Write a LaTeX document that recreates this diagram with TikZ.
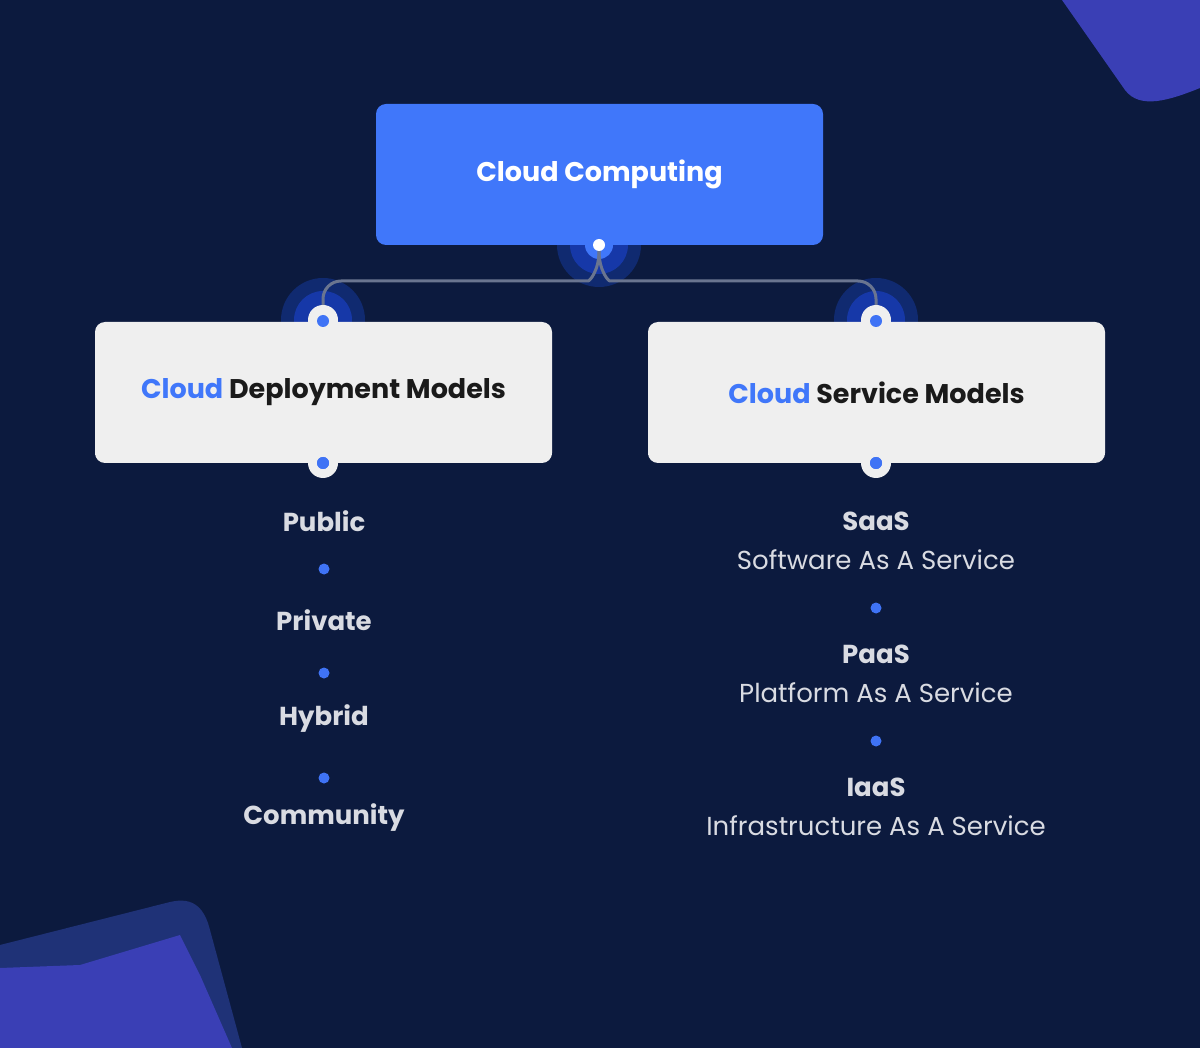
\documentclass[tikz,border=0pt]{standalone}
\usepackage{fontspec}
\setmainfont{Poppins}
\begin{document}
\begin{tikzpicture}[x=1pt,y=-1pt,
  topbox/.style={fill=topblue,rounded corners=10pt,minimum width=447pt,minimum height=141pt,text=white,font=\fontsize{27}{30}\selectfont\bfseries},
  subbox/.style={fill=boxgray,rounded corners=10pt,minimum width=457pt,minimum height=141pt,text=darktext,font=\fontsize{27}{30}\selectfont\bfseries},
  item/.style={text=itemgray,font=\fontsize{26}{30}\selectfont\bfseries},
  sub/.style={text=itemgray,font=\fontsize{26}{30}\selectfont},
  bdot/.style={circle,fill=dotblue,inner sep=0pt,minimum size=12pt},
  halo1/.style={circle,fill=halo,inner sep=0pt,minimum size=84pt},
  halo2/.style={circle,fill=halob,inner sep=0pt,minimum size=58pt},
  ring/.style={circle,fill=boxgray,inner sep=0pt,minimum size=30pt},
  link/.style={draw=linkgray,line width=3pt,rounded corners=18pt}]
\definecolor{bg}{HTML}{0C1A3E}
\definecolor{topblue}{HTML}{4077FA}
\definecolor{boxgray}{HTML}{EFEFEF}
\definecolor{darktext}{HTML}{1A1A1A}
\definecolor{itemgray}{HTML}{D9DBE2}
\definecolor{dotblue}{HTML}{3F73F5}
\definecolor{halo}{HTML}{102A70}
\definecolor{halob}{HTML}{1638A8}
\definecolor{linkgray}{HTML}{6A7590}
\definecolor{shapeA}{HTML}{3A3FB5}
\definecolor{shapeB}{HTML}{1F3277}
\fill[bg] (0,0) rectangle (1200,1048);
\useasboundingbox (0,0) rectangle (1200,1048);
% corner shapes
\fill[shapeA] (1062,0) -- (1200,0) -- (1200,88) .. controls (1170,100) and (1140,110) .. (1125,90) -- cycle;
\fill[shapeB] (0,945) -- (170,902) .. controls (195,896) and (205,910) .. (210,930) -- (242,1048) -- (0,1048) -- cycle;
\fill[shapeA] (0,968) -- (80,965) -- (180,935) -- (200,975) -- (232,1048) -- (0,1048) -- cycle;
% halos
\node[halo1] (h0) at (599,245) {};
\node[halo2] at (599,245) {};
\node[halo1] (hl) at (323,320) {};
\node[halo2] at (323,320) {};
\node[halo1] (hr) at (876,320) {};
\node[halo2] at (876,320) {};
% boxes
\node[topbox] (cc) at (599.5,174.5) {Cloud Computing};
\node[subbox] (dm) at (323.5,392.5) {\textcolor{topblue}{Cloud} Deployment Models};
\node[subbox] (sm) at (876.5,392.5) {\textcolor{topblue}{Cloud} Service Models};
% ports
\node[circle,fill=topblue,inner sep=0pt,minimum size=28pt] (p0b) at (599,245) {};
\node[circle,fill=white,inner sep=0pt,minimum size=12pt] (p0) at (599,245) {};
\coordinate (jl) at (323,320);
\coordinate (jr) at (876,320);
\draw[link] (p0.south) .. controls (599,270) and (590,281) .. (570,281) -- (323,281) -- (jl);
\draw[link] (p0.south) .. controls (599,270) and (608,281) .. (628,281) -- (876,281) -- (jr);
\node[ring] at (323,320) {};
\node[bdot] (dl) at (323,321) {};
\node[ring] at (876,320) {};
\node[bdot] (dr) at (876,321) {};
\node[ring] at (323,463) {};
\node[bdot] (dl2) at (323,463) {};
\node[ring] at (876,463) {};
\node[bdot] (dr2) at (876,463) {};
\fill[boxgray] (95,443) rectangle (552,455);
\fill[boxgray] (648,443) rectangle (1105,455);
\node[bdot] at (323,463) {};
\node[bdot] at (876,463) {};
% left list
\node[item] (pub) at (324,521) {Public};
\node[bdot,minimum size=11pt] at (324,569) {};
\node[item] (pri) at (324,620) {Private};
\node[bdot,minimum size=11pt] at (324,673) {};
\node[item] (hyb) at (324,719) {Hybrid};
\node[bdot,minimum size=11pt] at (324,778) {};
\node[item] (com) at (324,818) {Community};
% right list
\node[item] (saas) at (876,521) {SaaS};
\node[sub] at (876,560) {Software As A Service};
\node[bdot,minimum size=11pt] at (876,608) {};
\node[item] (paas) at (876,654) {PaaS};
\node[sub] at (876,693) {Platform As A Service};
\node[bdot,minimum size=11pt] at (876,741) {};
\node[item] (iaas) at (876,787) {IaaS};
\node[sub] at (876,826) {Infrastructure As A Service};
\end{tikzpicture}
\end{document}
